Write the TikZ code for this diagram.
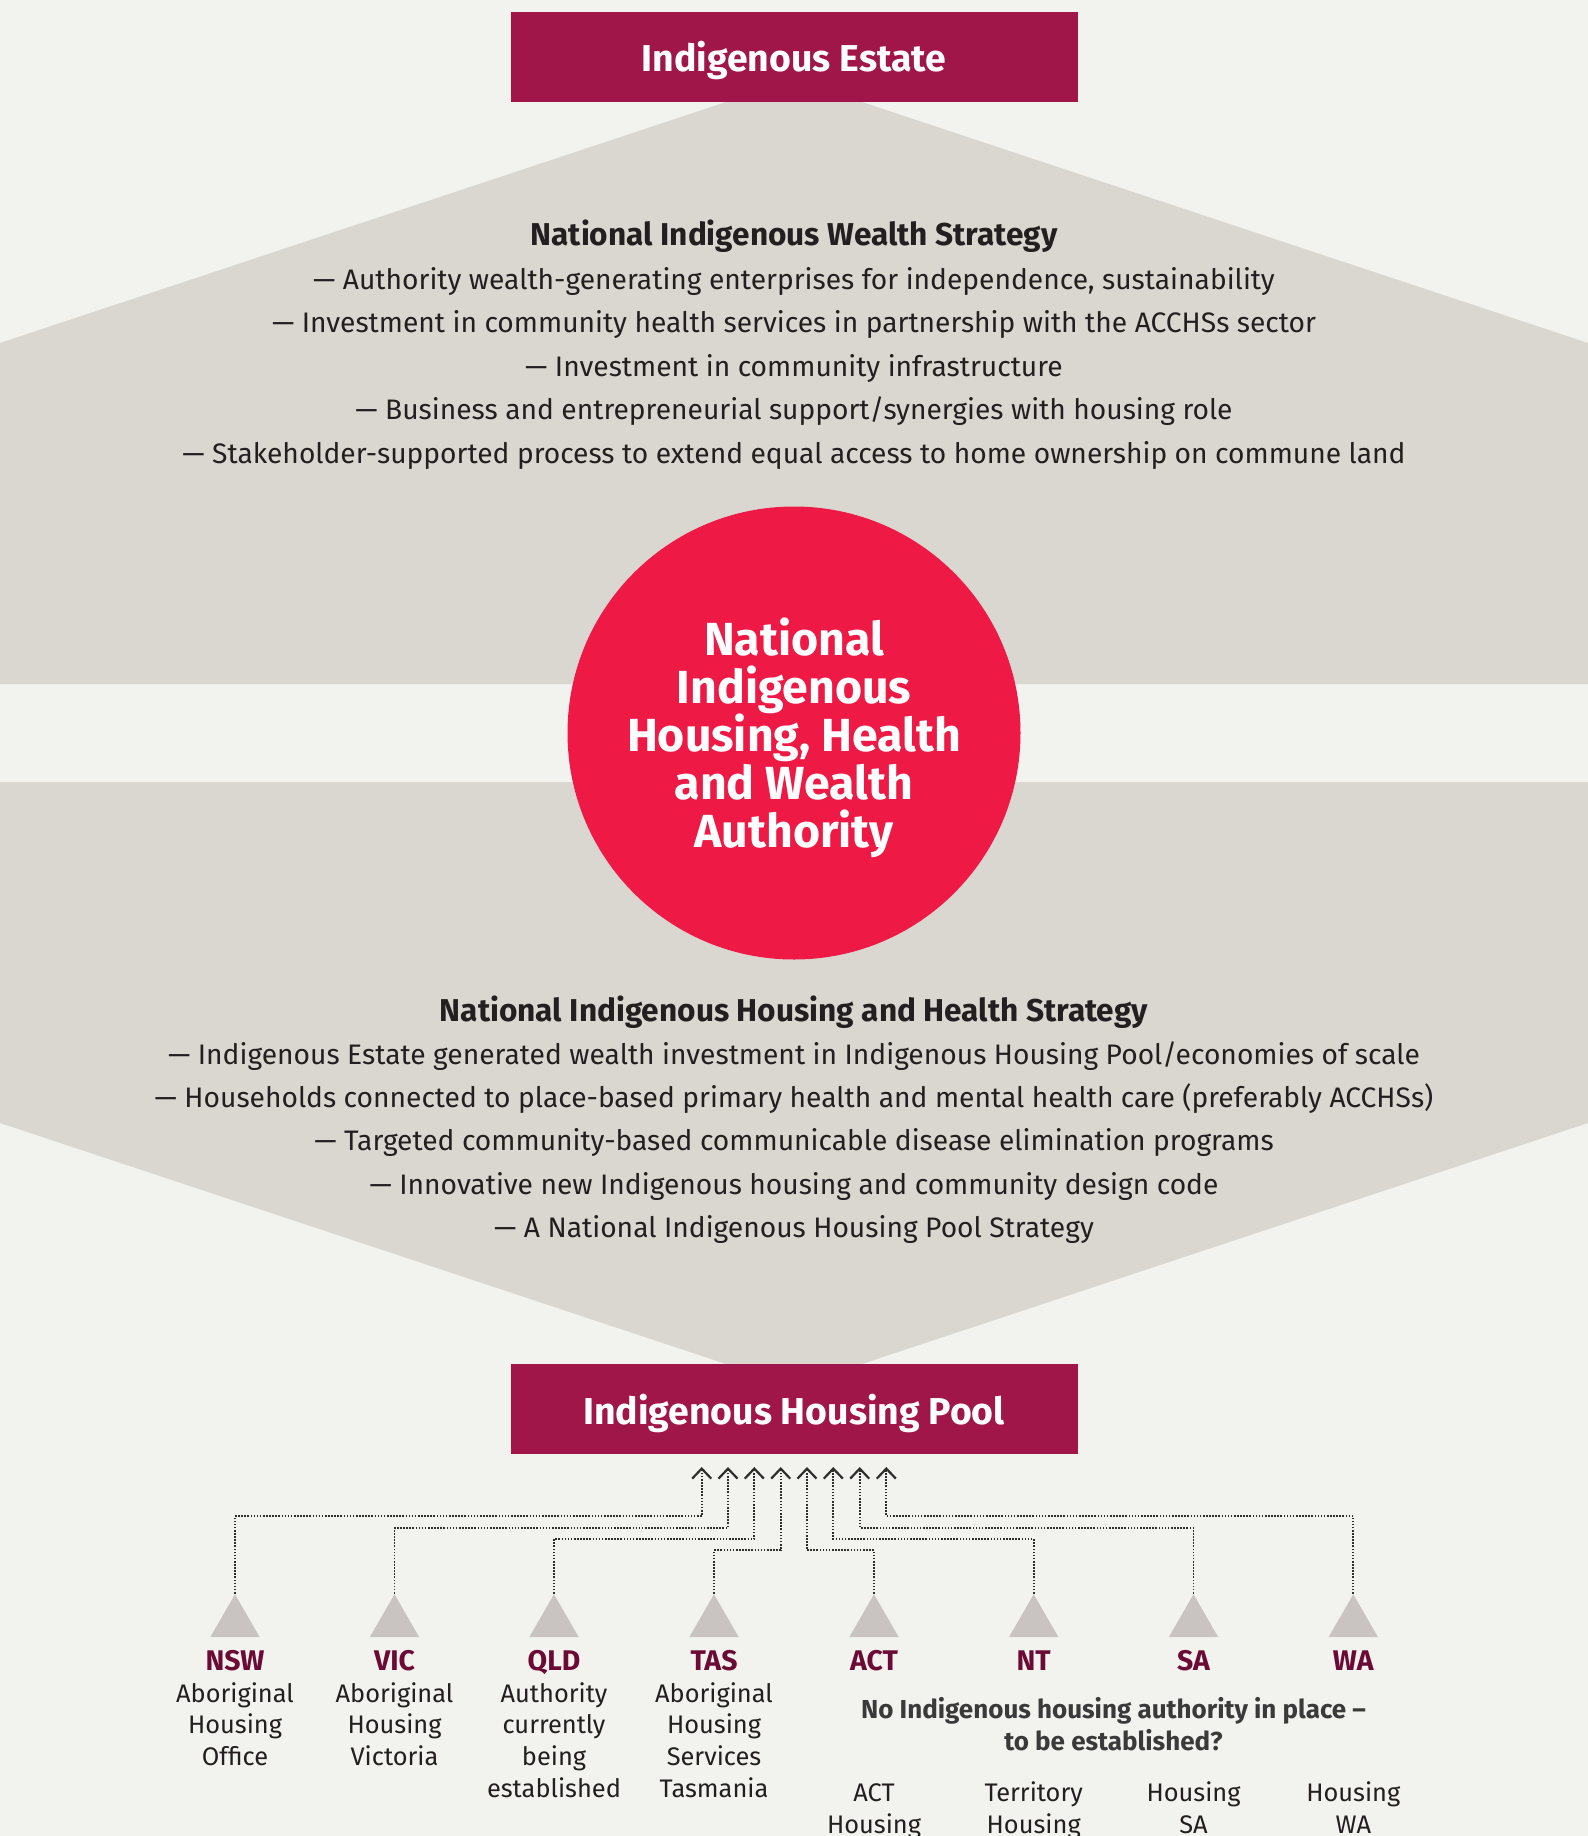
\documentclass[tikz,border=0pt]{standalone}
\usepackage{fontspec}
\setmainfont{Fira Sans}
\usetikzlibrary{shapes.geometric,arrows.meta}
\definecolor{bg}{HTML}{F2F2EE}
\definecolor{graybg}{HTML}{DAD7D0}
\definecolor{boxc}{HTML}{A01648}
\definecolor{circc}{HTML}{EE1A45}
\definecolor{tric}{HTML}{C9C4C1}
\definecolor{statec}{HTML}{6B0A35}
\definecolor{txt}{HTML}{231F20}
\definecolor{notec}{HTML}{3A3A3A}
\definecolor{linec}{HTML}{2E2E2E}
\begin{document}
\begin{tikzpicture}[x=0.5pt,y=-0.5pt,
  titlebox/.style={fill=boxc, minimum width=283.5pt, minimum height=45pt, inner sep=0pt,
     text depth=0pt, text=white, font=\fontsize{18.7}{22}\selectfont\bfseries},
  hub/.style={circle, fill=circc, minimum size=226.5pt, inner sep=0pt, text=white, align=center,
     text depth=0pt, font=\fontsize{23.2}{24}\selectfont\bfseries},
  heading/.style={anchor=base, inner sep=0pt, text=txt, font=\fontsize{15.8}{18}\selectfont\bfseries},
  bullet/.style={anchor=base, inner sep=0pt, text=txt, font=\fontsize{14.1}{16}\selectfont},
  tri/.style={regular polygon, regular polygon sides=3, minimum size=28.5pt, inner sep=0pt, fill=tric},
  statelbl/.style={anchor=base, inner sep=0pt, text=statec, font=\fontsize{14.2}{16}\selectfont\bfseries},
  body/.style={anchor=base, inner sep=0pt, text=txt, font=\fontsize{12.7}{15}\selectfont},
  note/.style={anchor=base, inner sep=0pt, text=notec, font=\fontsize{13}{15}\selectfont\bfseries},
  conn/.style={draw=linec, line width=0.85pt, dash pattern=on 0.8pt off 0.75pt,
     -{Straight Barb[length=5pt,width=9.5pt,line width=1.1pt]}}
]
\clip (0,0) rectangle (1588,1836);
\fill[bg] (0,0) rectangle (1588,1836);
% shaded shapes
\fill[graybg] (726,102) -- (862,102) -- (1588,343) -- (1588,684) -- (0,684) -- (0,343) -- cycle;
\fill[graybg] (0,782) -- (1588,782) -- (1588,1123) -- (862,1364) -- (726,1364) -- (0,1123) -- cycle;

% boxes
\node[titlebox] (estate) at (794,56.8) {Indigenous Estate};
\node[titlebox] (pool) at (794,1409) {Indigenous Housing Pool};

% hub
\node[hub] (authority) at (794,733) {National\\Indigenous\\Housing, Health\\and Wealth\\Authority};

% upper strategy
\node[heading] (wealthhead) at (794,245.5) {National Indigenous Wealth Strategy};
\foreach \t [count=\i] in {
  {— Authority wealth-generating enterprises for independence, sustainability},
  {— Investment in community health services in partnership with the ACCHSs sector},
  {— Investment in community infrastructure},
  {— Business and entrepreneurial support/synergies with housing role},
  {— Stakeholder-supported process to extend equal access to home ownership on commune land}}
  \node[bullet] (wb\i) at (794,{289+43.6*(\i-1)}) {\t};

% lower strategy
\node[heading] (househead) at (794,1021) {National Indigenous Housing and Health Strategy};
\foreach \t [count=\i] in {
  {— Indigenous Estate generated wealth investment in Indigenous Housing Pool/economies of scale},
  {— Households connected to place-based primary health and mental health care (preferably ACCHSs)},
  {— Targeted community-based communicable disease elimination programs},
  {— Innovative new Indigenous housing and community design code},
  {— A National Indigenous Housing Pool Strategy}}
  \node[bullet] (hb\i) at (794,{1064+43.4*(\i-1)}) {\t};

% arrow tips under the pool box
\foreach \i/\x in {1/701.7,2/728,3/754.3,4/780.7,5/807,6/833.3,7/859.7,8/886.3}
  \coordinate (t\i) at (\x,1467);

% state triangles
\foreach \n/\x in {nsw/235,vic/394.5,qld/554,tas/714,act/874,nt/1033.7,sa/1193.5,wa/1353.3}
  \node[tri] (tri\n) at (\x,1622.8) {};

% connectors
\draw[conn] (trinsw.north) |- ([yshift=-24.5pt]t1) -- (t1);
\draw[conn] (trivic.north) |- ([yshift=-30.35pt]t2) -- (t2);
\draw[conn] (triqld.north) |- ([yshift=-36pt]t3) -- (t3);
\draw[conn] (tritas.north) |- ([yshift=-41.65pt]t4) -- (t4);
\draw[conn] (triact.north) |- ([yshift=-41.65pt]t5) -- (t5);
\draw[conn] (trint.north) |- ([yshift=-36pt]t6) -- (t6);
\draw[conn] (trisa.north) |- ([yshift=-30.35pt]t7) -- (t7);
\draw[conn] (triwa.north) |- ([yshift=-24.5pt]t8) -- (t8);

% state labels
\foreach \n/\x/\l in {nsw/235/NSW,vic/394.5/VIC,qld/554/QLD,tas/714/TAS,act/874/ACT,nt/1033.7/NT,sa/1193.5/SA,wa/1353.3/WA}
  \node[statelbl] (lbl\n) at (\x,1670) {\l};

% descriptions
\foreach \t [count=\i] in {Aboriginal,Housing,Office}
  \node[body] (dnsw\i) at (235,{1702+31.8*(\i-1)}) {\t};
\foreach \t [count=\i] in {Aboriginal,Housing,Victoria}
  \node[body] (dvic\i) at (394.5,{1702+31.8*(\i-1)}) {\t};
\foreach \t [count=\i] in {Authority,currently,being,established}
  \node[body] (dqld\i) at (554,{1702+31.8*(\i-1)}) {\t};
\foreach \t [count=\i] in {Aboriginal,Housing,Services,Tasmania}
  \node[body] (dtas\i) at (714,{1702+31.8*(\i-1)}) {\t};

\node[note] (note1) at (1113.5,1718.5) {No Indigenous housing authority in place –};
\node[note] (note2) at (1113.5,1750) {to be established?};

\foreach \t [count=\i] in {ACT,Housing}
  \node[body] (dact\i) at (874,{1801.5+31.8*(\i-1)}) {\t};
\foreach \t [count=\i] in {Territory,Housing}
  \node[body] (dnt\i) at (1033.7,{1801.5+31.8*(\i-1)}) {\t};
\foreach \t [count=\i] in {Housing,SA}
  \node[body] (dsa\i) at (1193.5,{1801.5+31.8*(\i-1)}) {\t};
\foreach \t [count=\i] in {Housing,WA}
  \node[body] (dwa\i) at (1353.3,{1801.5+31.8*(\i-1)}) {\t};
\end{tikzpicture}
\end{document}
